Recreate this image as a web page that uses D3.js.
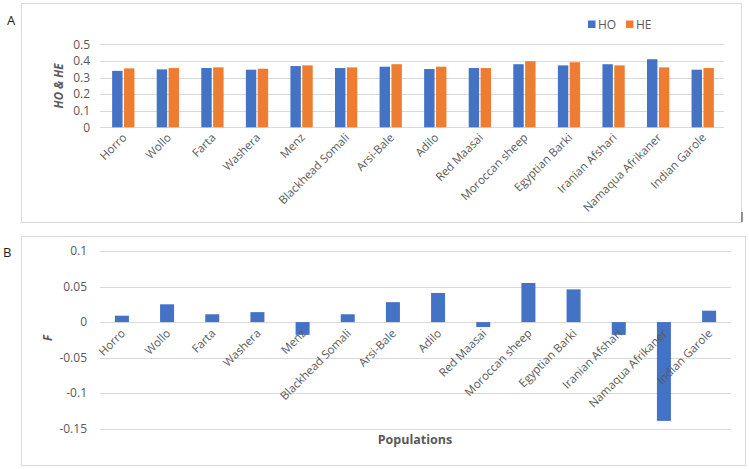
<!DOCTYPE html>
<html lang="en">
<head>
  <meta charset="utf-8">
  <script src="https://d3js.org/d3.v7.min.js"></script>
  <style>
    body { margin: 0; background: #fff; }
    text { font-family: "Open Sans", "Liberation Sans", sans-serif; fill: #595959; }
  </style>
</head>
<body>
<script>
  // Populations (shared by both panels)
  const populations = ["Horro", "Wollo", "Farta", "Washera", "Menz", "Blackhead Somali",
    "Arsi-Bale", "Adilo", "Red Maasai", "Moroccan sheep", "Egyptian Barki",
    "Iranian Afshari", "Namaqua Afrikaner", "Indian Garole"];

  // Panel A: observed and expected heterozygosity
  const seriesNames = ["HO", "HE"];
  const hoValues = [0.340, 0.349, 0.357, 0.347, 0.369, 0.357, 0.365, 0.351, 0.357, 0.380, 0.373, 0.380, 0.410, 0.347];
  const heValues = [0.355, 0.357, 0.361, 0.353, 0.373, 0.361, 0.380, 0.365, 0.357, 0.398, 0.392, 0.373, 0.361, 0.357];
  const ticksA = [0, 0.1, 0.2, 0.3, 0.4, 0.5];

  // Panel B: inbreeding coefficient F
  const fValues = [0.009, 0.025, 0.011, 0.014, -0.018, 0.011, 0.028, 0.041, -0.007, 0.055, 0.046, -0.018, -0.139, 0.016];
  const ticksB = [-0.15, -0.1, -0.05, 0, 0.05, 0.1];

  const colors = { HO: "#4472C4", HE: "#ED7D31" };
  const gridColor = "#d9d9d9";

  const svg = d3.select("body").append("svg")
    .attr("width", 749)
    .attr("height", 469);

  // panel frames
  svg.append("rect").attr("x", 21.5).attr("y", 3.5).attr("width", 720).attr("height", 219)
    .attr("fill", "none").attr("stroke", gridColor);
  svg.append("rect").attr("x", 21.5).attr("y", 236.5).attr("width", 724).attr("height", 229)
    .attr("fill", "none").attr("stroke", gridColor);
  // little dark tick on panel A's right edge
  svg.append("line").attr("x1", 742).attr("x2", 742).attr("y1", 212).attr("y2", 222)
    .attr("stroke", "#555").attr("stroke-width", 1.2);

  // panel letters
  svg.append("text").attr("x", 7).attr("y", 25).text("A")
    .style("font-size", "13px").style("fill", "#222");
  svg.append("text").attr("x", 3).attr("y", 257).text("B")
    .style("font-size", "13px").style("fill", "#222");

  // ---------- Panel A ----------
  const xA = d3.scaleBand().domain(populations).range([101, 725])
    .paddingInner(0.5).paddingOuter(0.25);
  const xAin = d3.scaleBand().domain(seriesNames).range([0, xA.bandwidth()]).paddingInner(0.12);
  const yA = d3.scaleLinear().domain([0, 0.5]).range([127.3, 44.3]);

  const gA = svg.append("g");
  gA.selectAll(".gridA").data(ticksA).enter().append("line")
    .attr("x1", 100).attr("x2", 724)
    .attr("y1", d => Math.round(yA(d)) + 0.5).attr("y2", d => Math.round(yA(d)) + 0.5)
    .attr("stroke", gridColor);
  gA.selectAll(".tickA").data(ticksA).enter().append("text")
    .attr("x", 90).attr("y", d => yA(d)).attr("dy", "0.35em")
    .attr("text-anchor", "end").style("font-size", "12px")
    .text(d => d3.format("")(d));

  const rowsA = populations.map((p, i) => ({ pop: p, HO: hoValues[i], HE: heValues[i] }));
  const groupsA = gA.selectAll(".grpA").data(rowsA).enter().append("g")
    .attr("transform", d => `translate(${xA(d.pop)},0)`);
  groupsA.selectAll("rect").data(d => seriesNames.map(s => ({ s: s, v: d[s] }))).enter().append("rect")
    .attr("x", d => xAin(d.s)).attr("width", xAin.bandwidth())
    .attr("y", d => yA(d.v)).attr("height", d => yA(0) - yA(d.v))
    .attr("fill", d => colors[d.s]);

  gA.selectAll(".labA").data(populations).enter().append("text")
    .attr("transform", d => `translate(${xA(d) + xA.bandwidth() / 2 + 4},${yA(0) + 11}) rotate(-45)`)
    .attr("text-anchor", "end").style("font-size", "11.5px")
    .text(d => d);

  gA.append("text")
    .attr("transform", "translate(63,86) rotate(-90)")
    .attr("text-anchor", "middle")
    .style("font-size", "11.5px").style("font-weight", "bold").style("font-style", "italic")
    .text("HO & HE");

  // legend
  const legend = gA.append("g").attr("transform", "translate(588,20)");
  seriesNames.forEach((s, i) => {
    legend.append("rect").attr("x", i * 38).attr("y", 0.5).attr("width", 7.5).attr("height", 7.5)
      .attr("fill", colors[s]);
    legend.append("text").attr("x", i * 38 + 10).attr("y", 4.5).attr("dy", "0.35em")
      .style("font-size", "12px").text(s);
  });

  // ---------- Panel B ----------
  const xB = d3.scaleBand().domain(populations).range([100, 731])
    .paddingInner(0.69).paddingOuter(0.33);
  const yB = d3.scaleLinear().domain([-0.15, 0.1]).range([428.7, 251]);

  const gB = svg.append("g");
  gB.selectAll(".gridB").data(ticksB).enter().append("line")
    .attr("x1", 100).attr("x2", 731)
    .attr("y1", d => Math.round(yB(d)) + 0.5).attr("y2", d => Math.round(yB(d)) + 0.5)
    .attr("stroke", gridColor);
  gB.selectAll(".tickB").data(ticksB).enter().append("text")
    .attr("x", 87).attr("y", d => yB(d)).attr("dy", "0.35em")
    .attr("text-anchor", "end").style("font-size", "12px")
    .text(d => d3.format("")(d).replace("−", "-"));

  // bars first, category labels drawn on top of them
  gB.selectAll(".barB").data(fValues).enter().append("rect")
    .attr("x", (d, i) => xB(populations[i])).attr("width", xB.bandwidth())
    .attr("y", d => yB(Math.max(0, d)))
    .attr("height", d => Math.abs(yB(d) - yB(0)))
    .attr("fill", colors.HO);

  gB.selectAll(".labB").data(populations).enter().append("text")
    .attr("transform", d => `translate(${xB(d) + xB.bandwidth() / 2 + 4},${yB(0) + 12}) rotate(-45)`)
    .attr("text-anchor", "end").style("font-size", "11.5px")
    .text(d => d);

  gB.append("text")
    .attr("transform", "translate(52,338) rotate(-90)")
    .attr("text-anchor", "middle")
    .style("font-size", "11.5px").style("font-weight", "bold").style("font-style", "italic")
    .text("F");

  gB.append("text").attr("x", 415).attr("y", 440).attr("dy", "0.35em")
    .attr("text-anchor", "middle")
    .style("font-size", "12.5px").style("font-weight", "bold")
    .text("Populations");
</script>
</body>
</html>
